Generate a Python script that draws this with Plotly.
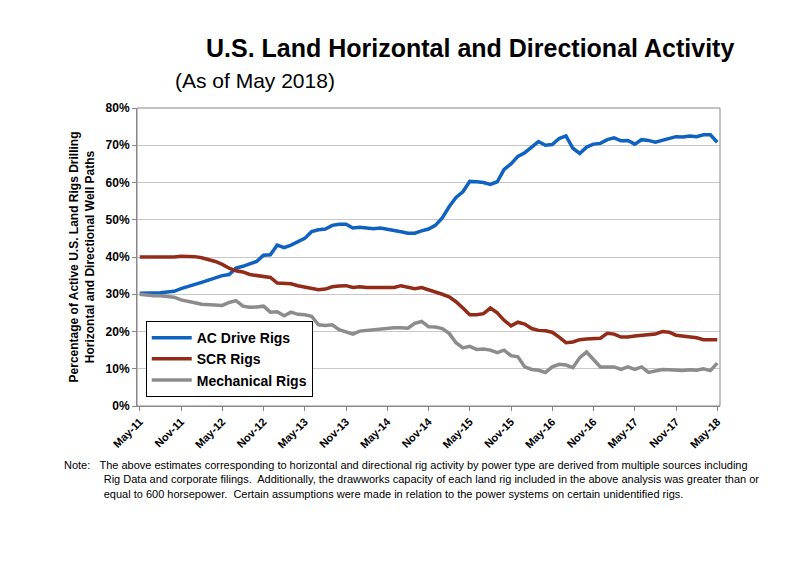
import plotly.graph_objects as go

months = ["May-11","Nov-11","May-12","Nov-12","May-13","Nov-13","May-14","Nov-14","May-15","Nov-15","May-16","Nov-16","May-17","Nov-17","May-18"]
ac = [30.3,30.3,30.4,30.4,30.6,30.8,
      31.5,32.0,32.6,33.2,33.8,34.4,
      35.0,35.3,37.0,37.5,38.2,38.8,
      40.5,40.6,43.2,42.5,43.2,44.0,
      45.0,46.8,47.3,47.5,48.5,48.8,
      48.8,47.8,48.0,47.8,47.6,47.8,
      47.5,47.3,46.8,46.4,46.4,47.0,
      47.5,48.5,50.5,53.5,56.0,57.5,
      60.3,60.2,60.0,59.5,60.2,63.5,
      65.0,67.0,68.0,69.5,71.0,70.0,
      70.2,71.8,72.5,69.2,67.8,69.5,
      70.3,70.5,71.5,72.0,71.2,71.3,
      70.3,71.5,71.3,70.8,71.3,71.8,
      72.3,72.2,72.5,72.3,72.8,72.8,70.8]
scr = [40.0,40.1,40.0,40.0,39.9,40.0,
       40.2,40.2,40.1,39.8,39.3,38.8,
       38.0,37.0,36.3,36.0,35.3,35.0,
       34.8,34.5,33.0,32.8,32.8,32.3,
       32.0,31.6,31.2,31.4,32.0,32.2,
       32.3,31.8,32.0,31.8,31.8,31.6,
       31.7,31.8,32.3,32.0,31.5,31.8,
       31.2,30.8,30.0,29.3,28.0,26.3,
       24.5,24.5,24.8,26.3,25.0,23.0,
       21.5,22.5,22.0,20.8,20.3,20.2,
       19.8,18.5,17.0,17.2,17.8,18.0,
       18.0,18.2,19.5,19.3,18.5,18.5,
       18.8,19.0,19.2,19.3,20.0,19.8,
       19.0,18.8,18.5,18.3,17.8,17.8,17.8]
mech = [30.0,29.7,29.6,29.6,29.5,29.2,
        28.5,28.0,27.7,27.3,27.2,27.1,
        27.0,27.8,28.3,26.8,26.5,26.6,
        26.8,25.2,25.3,24.2,25.2,24.6,
        24.5,24.1,21.8,21.6,21.8,20.5,
        19.8,19.3,20.1,20.3,20.4,20.6,
        20.7,21.0,21.0,20.9,22.2,22.7,
        21.3,21.2,20.8,19.5,17.0,15.6,
        16.0,15.2,15.3,15.0,14.3,15.0,
        13.5,13.2,10.5,9.8,9.6,9.0,
        10.5,11.2,11.0,10.3,13.0,14.5,
        12.5,10.5,10.5,10.5,9.8,10.5,
        9.8,10.5,9.0,9.5,9.8,9.7,
        9.5,9.5,9.7,9.6,10.0,9.5,11.5]

x = list(range(len(ac)))
fig = go.Figure()
for name, ys, c in [("<b>AC Drive Rigs</b>", ac, "#0f62bf"), ("<b>SCR Rigs</b>", scr, "#922b17"), ("<b>Mechanical Rigs</b>", mech, "#8c8c8c")]:
    fig.add_trace(go.Scatter(x=x, y=ys, mode="lines", name=name, line=dict(color=c, width=3.5)))

PW, PH = 800 - 137 - 80, 565 - 107 - 160
fig.update_layout(
    width=800, height=565, plot_bgcolor="white", paper_bgcolor="white",
    margin=dict(l=129, r=88, t=100, b=167, autoexpand=False),
    font=dict(family="Liberation Sans, Arial", color="black"),
    showlegend=True,
    legend=dict(x=0.015, y=0.03, xanchor="left", yanchor="bottom", bordercolor="black", borderwidth=1,
                font=dict(size=14, family="Liberation Sans, Arial"), bgcolor="white", tracegroupgap=8,
                itemwidth=40),
    xaxis=dict(range=[-0.4, 84.4], tickmode="array", tickvals=list(range(0, 85, 6)), ticktext=[f"<b>{m}</b>" for m in months],
               tickangle=-45, tickfont=dict(size=11), showgrid=False, showline=True, linecolor="#888",
               ticks="outside", ticklen=4, tickcolor="#888", zeroline=False),
    yaxis=dict(range=[0, 80], tickvals=list(range(0, 81, 10)), ticktext=[f"<b>{v}%</b>" for v in range(0, 81, 10)],
               tickfont=dict(size=12), showgrid=True, gridcolor="#c8c8c8", showline=True, linecolor="#888",
               ticks="outside", ticklen=4, tickcolor="#888", zeroline=False,
               title=dict(text="<b>Percentage of Active U.S. Land Rigs Drilling<br>Horizontal and Directional Well Paths</b>",
                          font=dict(size=12), standoff=8)),
)
fig.add_shape(type="rect", xref="paper", yref="paper", x0=0, y0=0, x1=1, y1=1, line=dict(color="#888", width=1))
fig.add_annotation(text="<b>U.S. Land Horizontal and Directional Activity</b>", xref="paper", yref="paper",
                   x=(470 - 137) / PW, y=(405 - 47) / PH, xanchor="center", yanchor="middle", showarrow=False,
                   font=dict(size=25))
fig.add_annotation(text="(As of May 2018)", xref="paper", yref="paper",
                   x=(173 - 137) / PW, y=(405 - 80) / PH, xanchor="left", yanchor="middle", showarrow=False,
                   font=dict(size=21))
note = ("Note:&nbsp;&nbsp;&nbsp;The above estimates corresponding to horizontal and directional rig activity by power type are derived from multiple sources including<br>"
        "&nbsp;&nbsp;&nbsp;&nbsp;&nbsp;&nbsp;&nbsp;&nbsp;&nbsp;&nbsp;&nbsp;&nbsp;&nbsp;Rig Data and corporate filings.  Additionally, the drawworks capacity of each land rig included in the above analysis was greater than or<br>"
        "&nbsp;&nbsp;&nbsp;&nbsp;&nbsp;&nbsp;&nbsp;&nbsp;&nbsp;&nbsp;&nbsp;&nbsp;&nbsp;equal to 600 horsepower.  Certain assumptions were made in relation to the power systems on certain unidentified rigs.")
fig.add_annotation(text=note, xref="paper", yref="paper", x=(62 - 137) / PW, y=(405 - 456) / PH, xanchor="left", yanchor="top",
                   align="left", showarrow=False, font=dict(size=11))
fig.write_html("out.html")
